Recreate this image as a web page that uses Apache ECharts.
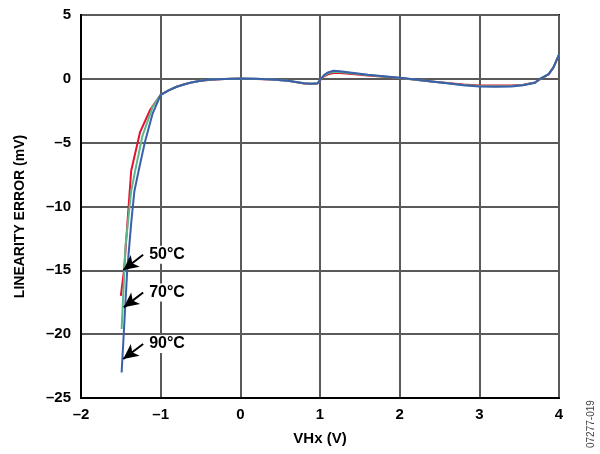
<!DOCTYPE html>
<html><head><meta charset="utf-8">
<script src="https://cdn.jsdelivr.net/npm/echarts@6/dist/echarts.min.js"></script>
<style>html,body{margin:0;padding:0;background:#fff}#c{width:600px;height:454px}</style>
</head><body><div id="c"></div>
<script>
// Data (x = VHx in V, y = linearity error in mV)
var red50 = [[-1.5,-17.0],[-1.46,-15.0],[-1.37,-7.2],[-1.26,-4.2],[-1.13,-2.4],[-1.0,-1.25],
 [-0.9,-0.9],[-0.8,-0.62],[-0.7,-0.42],[-0.6,-0.27],[-0.5,-0.16],[-0.4,-0.09],[-0.3,-0.05],[-0.2,-0.02],[-0.1,0.0],[0,0.01],
 [0.2,-0.01],[0.4,-0.06],[0.6,-0.16],[0.8,-0.36],[0.9,-0.39],[0.97,-0.36],[1.0,-0.12],[1.05,0.2],[1.1,0.36],[1.17,0.45],[1.25,0.45],
 [1.4,0.38],[1.6,0.27],[1.8,0.17],[2.0,0.06],[2.2,-0.08],[2.4,-0.2],[2.6,-0.33],[2.8,-0.45],[3.0,-0.52],[3.2,-0.53],[3.4,-0.52],
 [3.55,-0.46],[3.7,-0.28],[3.76,-0.05],[3.87,0.35],[3.93,0.88],[4.0,1.9]];
var green70 = [[-1.49,-19.6],[-1.44,-13.0],[-1.37,-8.8],[-1.32,-7.2],[-1.23,-4.5],[-1.1,-2.2],[-1.0,-1.25],
 [-0.9,-0.9],[-0.8,-0.62],[-0.7,-0.42],[-0.6,-0.26],[-0.5,-0.15],[-0.4,-0.08],[-0.3,-0.04],[-0.2,-0.01],[-0.1,0.01],[0,0.02],
 [0.2,0.0],[0.4,-0.05],[0.6,-0.15],[0.8,-0.35],[0.9,-0.38],[0.97,-0.35],[1.0,-0.1],[1.05,0.25],[1.1,0.43],[1.17,0.55],[1.25,0.54],
 [1.4,0.44],[1.6,0.3],[1.8,0.19],[2.0,0.07],[2.2,-0.07],[2.4,-0.2],[2.6,-0.34],[2.8,-0.48],[3.0,-0.57],[3.2,-0.58],[3.4,-0.56],
 [3.55,-0.48],[3.7,-0.29],[3.76,-0.02],[3.87,0.36],[3.93,0.9],[4.0,1.9]];
var blue90 = [[-1.49,-23.0],[-1.42,-15.0],[-1.37,-11.3],[-1.33,-8.8],[-1.28,-7.3],[-1.2,-5.0],[-1.1,-2.7],[-1.0,-1.25],
 [-0.9,-0.9],[-0.8,-0.62],[-0.7,-0.42],[-0.6,-0.26],[-0.5,-0.15],[-0.4,-0.08],[-0.3,-0.04],[-0.2,-0.01],[-0.1,0.01],[0,0.02],
 [0.2,0.0],[0.4,-0.05],[0.6,-0.15],[0.8,-0.35],[0.9,-0.38],[0.97,-0.35],[1.0,-0.1],[1.05,0.3],[1.1,0.5],[1.17,0.63],[1.25,0.6],
 [1.4,0.48],[1.6,0.32],[1.8,0.2],[2.0,0.08],[2.2,-0.06],[2.4,-0.2],[2.6,-0.35],[2.8,-0.5],[3.0,-0.6],[3.2,-0.62],[3.4,-0.6],
 [3.55,-0.5],[3.7,-0.3],[3.76,0.0],[3.87,0.37],[3.93,0.9],[4.0,1.9]];
// Annotation arrows: [label, tail x, tail y, head x, head y]
var annotations = [
 ['50°C', -1.22, -13.78, -1.468, -14.98],
 ['70°C', -1.22, -16.73, -1.463, -17.9],
 ['90°C', -1.22, -20.77, -1.47, -21.94]
];
var xTicks = {min:-2, max:4, step:1};
var yTicks = {min:-25, max:5, step:5};

var font = 'Liberation Sans, Arial, sans-serif';
function dash(v){ return String(v).replace('-', '\u2013'); }
var chart = echarts.init(document.getElementById('c'), null, {renderer:'canvas'});
var lineS = function(name, data, color){
  return {name:name, type:'line', data:data, symbol:'none', smooth:false,
    lineStyle:{color:color, width:2}, itemStyle:{color:color}, z:3, animation:false};
};
chart.setOption({
  animation:false,
  backgroundColor:'#fff',
  grid:{left:81, right:41, top:15, bottom:56, show:true, borderColor:'#000', borderWidth:2},
  xAxis:{type:'value', min:xTicks.min, max:xTicks.max, interval:xTicks.step,
    name:'VHx (V)', nameLocation:'middle', nameGap:33,
    nameTextStyle:{fontFamily:font, fontWeight:'bold', fontSize:15, color:'#000'},
    axisLine:{onZero:false, lineStyle:{color:'#000', width:2}}, axisTick:{show:false},
    axisLabel:{fontFamily:font, fontWeight:'bold', fontSize:15, color:'#000', margin:9, formatter:dash},
    splitLine:{show:true, lineStyle:{color:'#5a5a5a', width:2}}},
  yAxis:{type:'value', min:yTicks.min, max:yTicks.max, interval:yTicks.step,
    name:'LINEARITY ERROR (mV)', nameLocation:'middle', nameGap:54,
    nameTextStyle:{fontFamily:font, fontWeight:'bold', fontSize:14, color:'#000', padding:[0,20,0,0]},
    axisLine:{onZero:false, lineStyle:{color:'#000', width:2}}, axisTick:{show:false},
    axisLabel:{fontFamily:font, fontWeight:'bold', fontSize:15, color:'#000', margin:10, formatter:dash},
    splitLine:{show:true, lineStyle:{color:'#5a5a5a', width:2}}},
  series:[
    lineS('50°C', red50, '#e3122f'),
    lineS('70°C', green70, '#5cb88c'),
    lineS('90°C', blue90, '#3a60aa'),
    {type:'scatter', name:'labels', symbolSize:0, z:5, animation:false, silent:true,
     itemStyle:{opacity:1, color:'#000'},
     data: annotations.map(function(a){ return {value:[a[1], a[2]], name:a[0]}; }),
     label:{show:true, position:'right', distance:5, formatter:function(p){return p.name;},
       fontFamily:font, fontWeight:'bold', fontSize:16, color:'#000', opacity:1,
       backgroundColor:'#fff', padding:[1,2,1,1]},
     markLine:{silent:true, symbol:['none','arrow'], symbolSize:[11,15], animation:false,
       lineStyle:{color:'#000', width:2, type:'solid'}, label:{show:false},
       data: annotations.map(function(a){ return [{coord:[a[1],a[2]]},{coord:[a[3],a[4]]}]; })}
    }
  ],
  graphic:[{type:'text', right:4, bottom:6, rotation:Math.PI/2,
    style:{text:'07277-019', fontFamily:font, fontSize:10, fill:'#444'}}]
});
</script></body></html>
